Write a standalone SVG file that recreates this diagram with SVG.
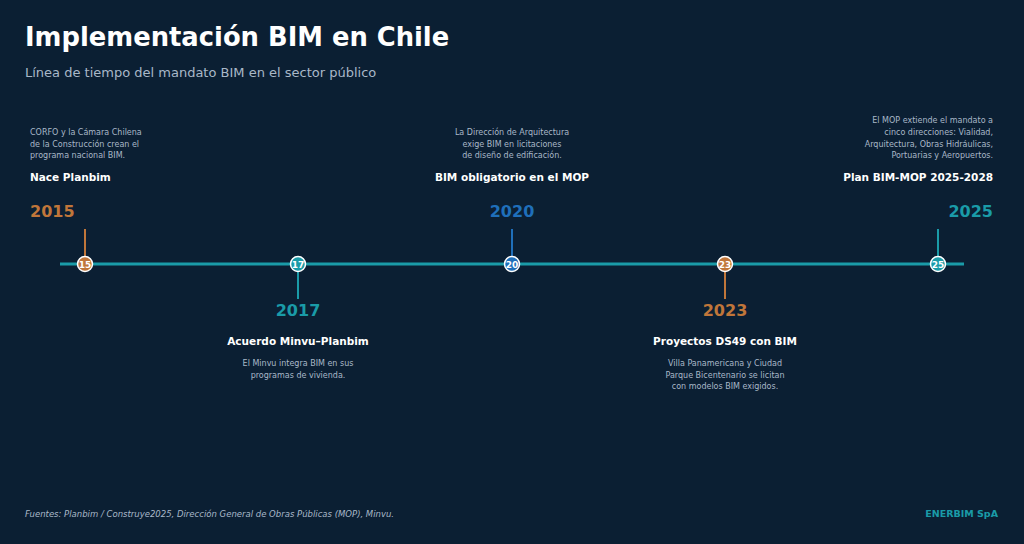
<svg xmlns="http://www.w3.org/2000/svg" width="1024" height="544" viewBox="0 0 1024 544">
<style>
text{font-family:"DejaVu Sans",sans-serif}
.t{fill:#fff;font-size:25.8px;font-weight:bold}
.s{fill:#a9b8c8;font-size:13px}
.d{fill:#a9b8c8;font-size:8px}
.h{fill:#fff;font-size:10.5px;font-weight:bold}
.y{font-size:16px;font-weight:bold}
.n{fill:#fff;font-size:9px;font-weight:bold;text-anchor:middle}
.f{fill:#a9b8c8;font-size:8.5px;font-style:italic}
.to{fill:#c0763a}.tc{fill:#1a9ba8}.tb{fill:#1f6fba}
.dot{stroke:#fff;stroke-width:1.5}
</style>
<rect width="1024" height="544" fill="#0b1f33"/>
<text x="25" y="46" class="t">Implementación BIM en Chile</text>
<text x="25" y="77" class="s">Línea de tiempo del mandato BIM en el sector público</text>
<g id="connectors">
<line x1="60" y1="264" x2="964" y2="264" stroke="#1a9ba8" stroke-width="3"/>
<line x1="85" y1="229" x2="85" y2="264" stroke="#c0763a" stroke-width="2"/>
<line x1="298" y1="264" x2="298" y2="299" stroke="#1a9ba8" stroke-width="2"/>
<line x1="512" y1="229" x2="512" y2="264" stroke="#1f6fba" stroke-width="2"/>
<line x1="725" y1="264" x2="725" y2="299" stroke="#c0763a" stroke-width="2"/>
<line x1="938" y1="229" x2="938" y2="264" stroke="#1a9ba8" stroke-width="2"/>
</g>
<g id="n2015">
<text x="30" y="135" class="d">CORFO y la Cámara Chilena</text>
<text x="30" y="146.5" class="d">de la Construcción crean el</text>
<text x="30" y="158" class="d">programa nacional BIM.</text>
<text x="30" y="181" class="h">Nace Planbim</text>
<text x="30" y="217" class="y to">2015</text>
<circle cx="85" cy="264" r="7.5" class="dot" fill="#c0763a"/>
<text x="85" y="267.5" class="n">15</text>
</g>
<g id="n2017" text-anchor="middle">
<text x="298" y="316" class="y tc">2017</text>
<text x="298" y="345" class="h">Acuerdo Minvu–Planbim</text>
<text x="298" y="366" class="d">El Minvu integra BIM en sus</text>
<text x="298" y="377.5" class="d">programas de vivienda.</text>
<circle cx="298" cy="264" r="7.5" class="dot" fill="#1a9ba8"/>
<text x="298" y="267.5" class="n">17</text>
</g>
<g id="n2020" text-anchor="middle">
<text x="512" y="135" class="d">La Dirección de Arquitectura</text>
<text x="512" y="146.5" class="d">exige BIM en licitaciones</text>
<text x="512" y="158" class="d">de diseño de edificación.</text>
<text x="512" y="181" class="h">BIM obligatorio en el MOP</text>
<text x="512" y="217" class="y tb">2020</text>
<circle cx="512" cy="264" r="7.5" class="dot" fill="#1f6fba"/>
<text x="512" y="267.5" class="n">20</text>
</g>
<g id="n2023" text-anchor="middle">
<text x="725" y="316" class="y to">2023</text>
<text x="725" y="345" class="h">Proyectos DS49 con BIM</text>
<text x="725" y="366" class="d">Villa Panamericana y Ciudad</text>
<text x="725" y="377.5" class="d">Parque Bicentenario se licitan</text>
<text x="725" y="389" class="d">con modelos BIM exigidos.</text>
<circle cx="725" cy="264" r="7.5" class="dot" fill="#c0763a"/>
<text x="725" y="267.5" class="n">23</text>
</g>
<g id="n2025" text-anchor="end">
<text x="993" y="123" class="d">El MOP extiende el mandato a</text>
<text x="993" y="135" class="d">cinco direcciones: Vialidad,</text>
<text x="993" y="146.5" class="d">Arquitectura, Obras Hidráulicas,</text>
<text x="993" y="158" class="d">Portuarias y Aeropuertos.</text>
<text x="993" y="181" class="h">Plan BIM-MOP 2025-2028</text>
<text x="993" y="217" class="y tc">2025</text>
<circle cx="938" cy="264" r="7.5" class="dot" fill="#1a9ba8"/>
<text x="938" y="267.5" class="n">25</text>
</g>
<text x="25" y="517" class="f">Fuentes: Planbim / Construye2025, Dirección General de Obras Públicas (MOP), Minvu.</text>
<text x="998" y="517" fill="#1a9ba8" font-size="9.5" font-weight="bold" text-anchor="end">ENERBIM SpA</text>
</svg>
